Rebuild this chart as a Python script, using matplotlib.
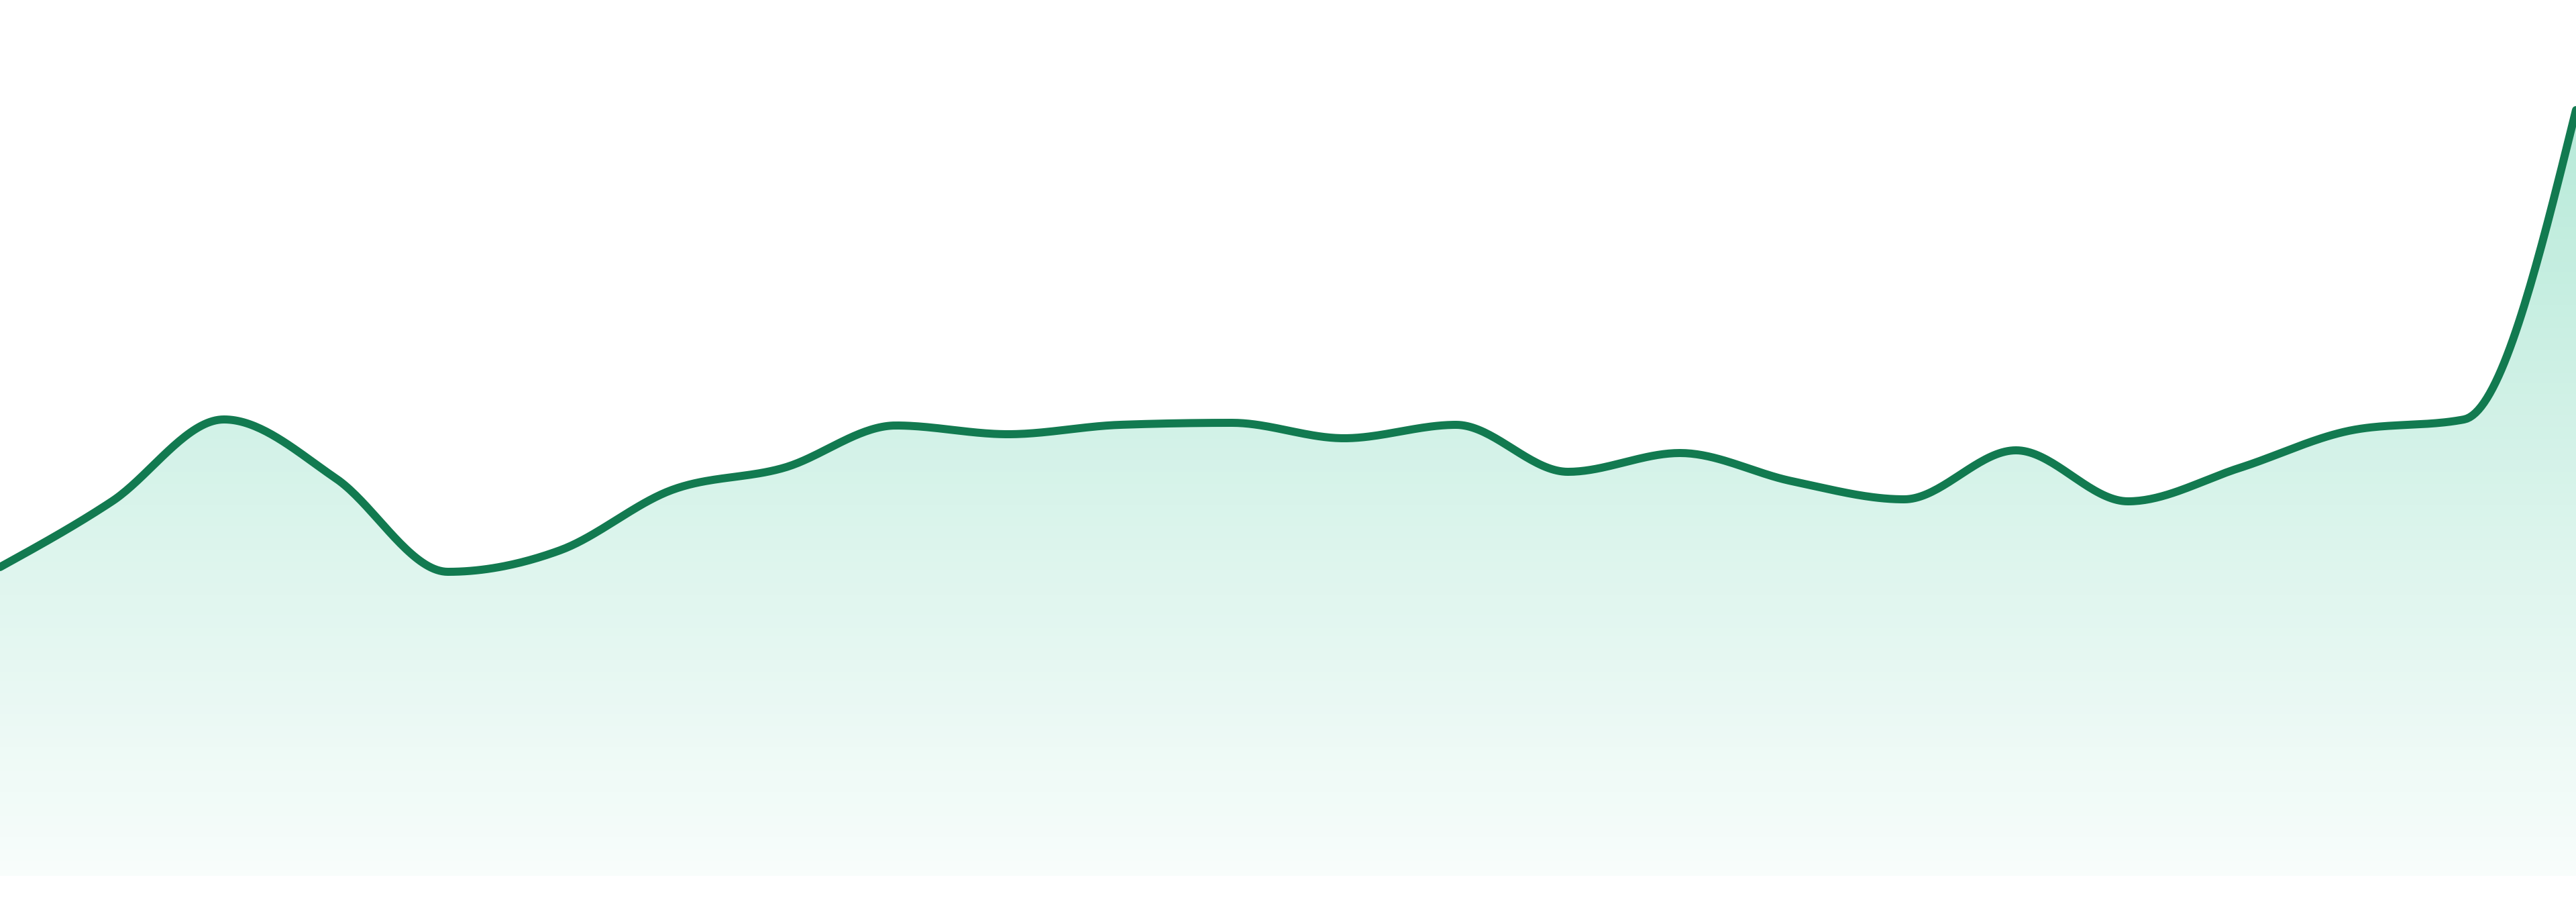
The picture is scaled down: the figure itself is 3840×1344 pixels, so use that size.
import numpy as np
import matplotlib
matplotlib.use("Agg")
import matplotlib.pyplot as plt
from matplotlib.colors import LinearSegmentedColormap

# --- Data ---
points = list(range(24))
values = [46.0, 55.8, 68.0, 59.2, 45.3, 48.5, 57.5, 60.8, 67.1, 65.8, 67.2, 67.5,
          65.2, 67.2, 60.2, 63.0, 58.8, 56.1, 63.4, 55.8, 60.8, 66.4, 68.0, 114.1]

LINE_COLOR = "#127a50"
FILL_COLOR = "#10b981"


# monotone cubic (same idea as d3 curveMonotoneX) just for drawing the line
def monotone_curve(x, y, n=40):
    x = np.asarray(x, float)
    y = np.asarray(y, float)
    h = np.diff(x)
    s = np.diff(y) / h
    m = np.zeros_like(y)
    for i in range(1, len(y) - 1):
        if s[i - 1] * s[i] <= 0:
            m[i] = 0
        else:
            p = (s[i - 1] * h[i] + s[i] * h[i - 1]) / (h[i - 1] + h[i])
            m[i] = (np.sign(s[i - 1]) + np.sign(s[i])) * min(abs(s[i - 1]), abs(s[i]), 0.5 * abs(p))
    m[0] = (3 * s[0] - m[1]) / 2 if len(y) > 2 else s[0]
    m[-1] = (3 * s[-1] - m[-2]) / 2 if len(y) > 2 else s[-1]
    xs, ys = [], []
    for i in range(len(x) - 1):
        t = np.linspace(0, 1, n, endpoint=(i == len(x) - 2))
        h00 = 2 * t**3 - 3 * t**2 + 1
        h10 = t**3 - 2 * t**2 + t
        h01 = -2 * t**3 + 3 * t**2
        h11 = t**3 - t**2
        xs.append(x[i] + t * h[i])
        ys.append(h00 * y[i] + h10 * h[i] * m[i] + h01 * y[i + 1] + h11 * h[i] * m[i + 1])
    return np.concatenate(xs), np.concatenate(ys)


xs, ys = monotone_curve(points, values)

fig = plt.figure(figsize=(16, 5.6), dpi=240)
ax = fig.add_axes([0, 0, 1, 1])
ax.set_xlim(0, 23)
ax.set_ylim(-3.9, 130.5)
ax.axis("off")

# --- gradient fill under the line ---
top = max(values)
cmap = LinearSegmentedColormap.from_list(
    "g", [(1, 1, 1, 1), (1, 1, 1, 1)])
grad = np.linspace(0, 1, 256).reshape(-1, 1)
rgba = np.zeros((256, 1, 4))
base = matplotlib.colors.to_rgb(FILL_COLOR)
rgba[..., 0] = base[0]
rgba[..., 1] = base[1]
rgba[..., 2] = base[2]
rgba[..., 3] = 0.03 + 0.27 * grad
img = ax.imshow(rgba, extent=[0, 23, 0, top], origin="lower", aspect="auto", zorder=1)
poly = ax.fill_between(xs, ys, 0, color="none", lw=0)
clip = plt.Polygon(np.column_stack([np.r_[xs, xs[-1], xs[0]], np.r_[ys, 0, 0]]),
                   closed=True, transform=ax.transData)
img.set_clip_path(clip)

ax.plot(xs, ys, color=LINE_COLOR, lw=3.6, solid_capstyle="round", zorder=3)

fig.savefig("out.png", dpi=240, facecolor="white")
